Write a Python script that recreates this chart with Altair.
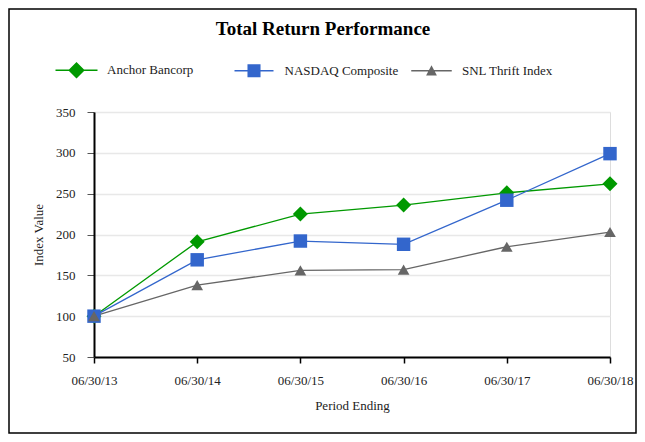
import altair as alt
import pandas as pd

periods = ["06/30/13", "06/30/14", "06/30/15", "06/30/16", "06/30/17", "06/30/18"]
series_names = ["Anchor Bancorp", "NASDAQ Composite", "SNL Thrift Index"]
anchor = [100, 191, 225, 236, 251, 262]
nasdaq = [100, 169, 192, 188, 242, 299]
snl = [100, 138, 156, 157, 185, 203]
y_ticks = [50, 100, 150, 200, 250, 300, 350]

colors = ["#009900", "#3366CC", "#666666"]
shapes = ["diamond", "square", "triangle-up"]
sizes = [225, 137, 150]
legend_shapes = [
    "M-2.8,-0.1L2.8,-0.1L2.8,0.1L-2.8,0.1Z M0,-1.1L1.1,0L0,1.1L-1.1,0Z",
    "M-2.6,-0.1L2.6,-0.1L2.6,0.1L-2.6,0.1Z M-0.87,-0.87L0.87,-0.87L0.87,0.87L-0.87,0.87Z",
    "M-2.7,-0.1L2.7,-0.1L2.7,0.1L-2.7,0.1Z M0,-0.72L0.72,0.62L-0.72,0.62Z",
]

rows = []
for name, vals in zip(series_names, [anchor, nasdaq, snl]):
    for p, v in zip(periods, vals):
        rows.append({"period": p, "series": name, "value": v})
df = pd.DataFrame(rows)

FONT = "Liberation Serif"
W, H = 516, 245
PL, PT, PR, PB = 86, 104, 27, 77

x_enc = alt.X(
    "period:O",
    sort=periods,
    scale=alt.Scale(type="point", padding=0),
    axis=alt.Axis(
        title="Period Ending", labelAngle=0, grid=False, domainColor="black",
        domainWidth=2, tickColor="black", tickWidth=1.5, tickSize=6,
        labelPadding=11, labelFontSize=13, titleFontSize=13, titleFontWeight="normal",
        titlePadding=12, labelFont=FONT, titleFont=FONT, labelColor="#222",
        titleColor="#222",
    ),
)
y_enc = alt.Y(
    "value:Q",
    scale=alt.Scale(domain=[50, 350], nice=False, zero=False),
    axis=alt.Axis(
        title="Index Value", values=y_ticks, grid=True, gridColor="#e8e8e8",
        gridWidth=1.5, domainColor="black", domainWidth=2, tickColor="#555",
        tickWidth=1, tickSize=7, labelPadding=12, labelFontSize=13,
        titleFontSize=13, titleFontWeight="normal", titlePadding=10,
        labelFont=FONT, titleFont=FONT, labelColor="#222", titleColor="#222",
    ),
)

base = alt.Chart(df)

lines = base.mark_line(strokeWidth=1.3).encode(
    x=x_enc, y=y_enc,
    color=alt.Color("series:N", scale=alt.Scale(domain=series_names, range=colors), legend=None),
    order=alt.Order("series:N"),
)

points = base.mark_point(filled=True, opacity=1).encode(
    x=alt.X("period:O", sort=periods),
    y="value:Q",
    color=alt.Color("series:N", scale=alt.Scale(domain=series_names, range=colors), legend=None),
    shape=alt.Shape("series:N", scale=alt.Scale(domain=series_names, range=shapes), legend=None),
    size=alt.Size("series:N", scale=alt.Scale(domain=series_names, range=sizes), legend=None),
)

leg = alt.Legend(title=None, orient="none", legendX=-25, legendY=-49.5,
                 direction="horizontal", gridAlign="all",
                 columnPadding=12.5, labelOffset=23, symbolSize=225,
                 symbolStrokeWidth=0, labelFont=FONT, labelFontSize=13,
                 labelColor="#222", padding=0)

legend_layer = base.transform_filter("datum.value < 0").transform_calculate(
    Series="datum.series"
).mark_point(filled=True, opacity=1, size=225).encode(
    x=alt.X("period:O", sort=periods),
    y="value:Q",
    fill=alt.Fill("Series:N", scale=alt.Scale(domain=series_names, range=colors), legend=leg),
    shape=alt.Shape("Series:N", scale=alt.Scale(domain=series_names, range=legend_shapes), legend=leg),
)

border = alt.Chart(pd.DataFrame({"a": [0]})).mark_rect(
    fill=None, stroke="black", strokeWidth=1.5
).encode(
    x=alt.value(-PL + 1), x2=alt.value(W + PR - 1),
    y=alt.value(-PT + 1), y2=alt.value(H + PB - 1),
)

chart = alt.layer(lines, points, legend_layer, border).resolve_scale(
    color="independent", shape="independent", fill="independent"
).properties(
    width=W, height=H,
    autosize=alt.AutoSizeParams(type="none"),
    padding={"left": PL, "top": PT, "right": PR, "bottom": PB},
    title=alt.TitleParams(
        "Total Return Performance", font=FONT, fontSize=19, fontWeight="bold",
        color="black", anchor="middle", offset=0, dy=31, dx=-29,
    ),
).configure_view(stroke=None).configure(background="white")

chart.save("out.html", embed_options={"renderer": "svg", "actions": False})
